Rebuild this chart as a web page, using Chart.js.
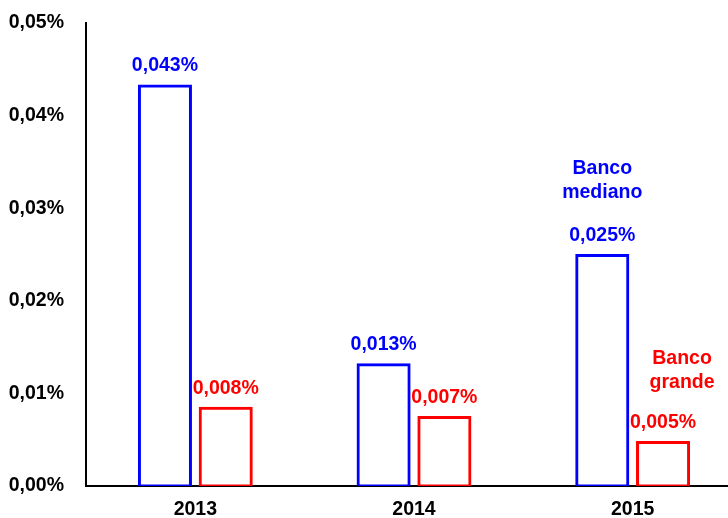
<!DOCTYPE html>
<html>
<head>
<meta charset="utf-8">
<script src="https://cdn.jsdelivr.net/npm/chart.js@4.4.1/dist/chart.umd.min.js"></script>
<style>
  html, body { margin: 0; padding: 0; background: #fff; overflow: hidden; }
  #wrap { width: 742px; height: 518px; }
</style>
</head>
<body>
<div id="wrap"><canvas id="chart"></canvas></div>
<script>
// Data (values in %)
const categories = ['2013', '2014', '2015'];
const bancoMediano = [0.0432, 0.0131, 0.0249];
const bancoGrande = [0.0084, 0.0074, 0.0047];
const seriesNames = [['Banco', 'mediano'], ['Banco', 'grande']];
const yTicks = [0, 0.01, 0.02, 0.03, 0.04, 0.05];

const BLUE = '#0000FF';
const RED = '#FF0000';
const FONT = '"Liberation Sans", Arial, sans-serif';

function pct(v, d) {
    return v.toFixed(d).replace('.', ',') + '%';
}

// Draws the value labels above the bars and the series names over 2015
const barLabels = {
    id: 'barLabels',
    afterDatasetsDraw(chart) {
        const ctx = chart.ctx;
        ctx.save();
        ctx.font = 'bold 19.5px ' + FONT;
        ctx.textAlign = 'center';
        ctx.textBaseline = 'middle';
        chart.data.datasets.forEach((ds, i) => {
            const meta = chart.getDatasetMeta(i);
            ctx.fillStyle = ds.borderColor;
            meta.data.forEach((bar, j) => {
                ctx.fillText(pct(ds.data[j], 3), bar.x, bar.y - 20);
            });
            // series name next to last bar
            const last = meta.data[meta.data.length - 1];
            const names = seriesNames[i];
            const dx = i === 0 ? 0 : 19;
            const top = i === 0 ? 87 : 84;
            names.forEach((line, k) => {
                ctx.fillText(line, last.x + dx, last.y - top + k * 24);
            });
        });
        ctx.restore();
    }
};

new Chart(document.getElementById('chart'), {
    type: 'bar',
    data: {
        labels: categories,
        datasets: [
            {
                label: 'Banco mediano',
                data: bancoMediano,
                backgroundColor: '#FFFFFF',
                borderColor: BLUE,
                borderWidth: 3,
                borderSkipped: false,
                inflateAmount: 1.5
            },
            {
                label: 'Banco grande',
                data: bancoGrande,
                backgroundColor: '#FFFFFF',
                borderColor: RED,
                borderWidth: 3,
                borderSkipped: false,
                inflateAmount: 1.5
            }
        ]
    },
    options: {
        responsive: true,
        maintainAspectRatio: false,
        animation: false,
        categoryPercentage: 0.556,
        barPercentage: 0.84,
        layout: {
            padding: { top: 23, left: 0, right: 0, bottom: 0 }
        },
        scales: {
            x: {
                afterFit(scale) {
                    scale.height = 32;
                },
                grid: { display: false, drawTicks: false },
                border: { display: true, color: '#000', width: 2 },
                ticks: {
                    color: '#000',
                    padding: 12,
                    font: { family: FONT, size: 19.5, weight: 'bold' }
                }
            },
            y: {
                min: 0,
                max: 0.05,
                afterBuildTicks(scale) {
                    scale.ticks = yTicks.map(v => ({ value: v }));
                },
                afterFit(scale) {
                    scale.width = 86;
                    scale.paddingTop = 0;
                    scale.paddingBottom = 0;
                },
                grid: { display: false, drawTicks: false },
                border: { display: true, color: '#000', width: 2 },
                ticks: {
                    color: '#000',
                    padding: 22,
                    font: { family: FONT, size: 19.5, weight: 'bold' },
                    callback: v => pct(v, 2)
                }
            }
        },
        plugins: {
            legend: { display: false },
            tooltip: { enabled: false }
        }
    },
    plugins: [barLabels]
});
</script>
</body>
</html>
